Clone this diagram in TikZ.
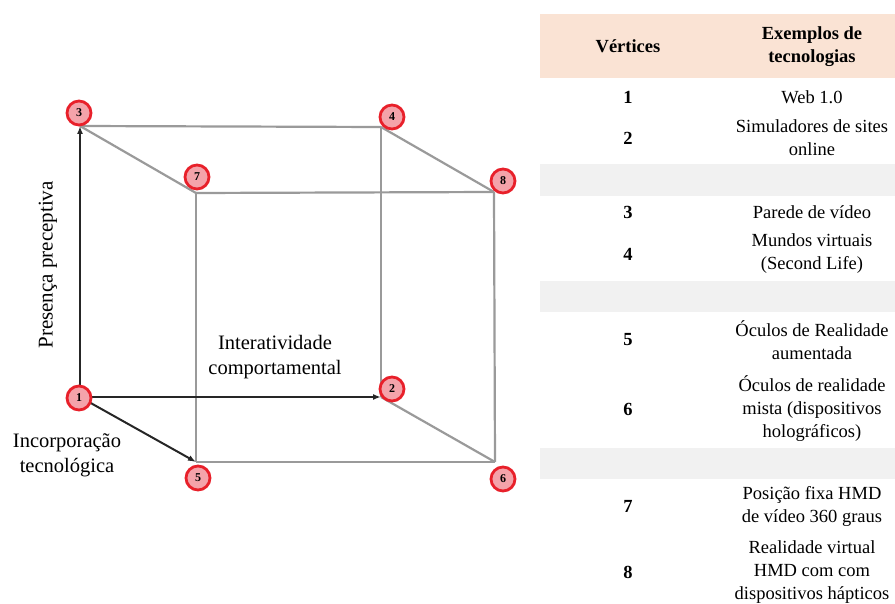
\documentclass[tikz,border=0pt]{standalone}
\usepackage{fontspec}
\setmainfont{Liberation Serif}
\usetikzlibrary{arrows.meta}
\definecolor{hdr}{HTML}{FAE3D4}
\definecolor{band}{HTML}{F1F1F1}
\definecolor{vred}{HTML}{E8202A}
\definecolor{vfill}{HTML}{F4A3AA}
\definecolor{edge}{HTML}{9A9A9A}
\tikzset{
  vtx/.style={circle,draw=vred,line width=2.8pt,fill=vfill,minimum size=24pt,inner sep=0pt,font=\fontsize{12}{12}\selectfont\bfseries},
  grayedge/.style={draw=edge,line width=2.2pt},
  axis/.style={draw=black!85,line width=2pt,-{Latex[length=8pt,width=6pt]}},
  txt/.style={font=\fontsize{18.5}{23}\selectfont,align=center},
  bold/.style={font=\fontsize{18.5}{23}\selectfont\bfseries,align=center},
  lbl/.style={font=\fontsize{20.5}{25}\selectfont,align=center}
}
\begin{document}
\begin{tikzpicture}[x=1pt,y=-1pt]
\useasboundingbox (0,0) rectangle (895,604);
% corners
\coordinate (c1) at (80,397);
\coordinate (c3) at (80,126);
\coordinate (c4) at (381,127);
\coordinate (c2) at (381,397);
\coordinate (c7) at (196,193);
\coordinate (c8) at (494,192);
\coordinate (c6) at (495,462);
\coordinate (c5) at (196,462);
% gray edges
\draw[grayedge] (c3) -- (c4);
\draw[grayedge] (c3) -- (c7);
\draw[grayedge] (c4) -- (c8);
\draw[grayedge] (c7) -- (c8);
\draw[grayedge] (c7) -- (c5);
\draw[grayedge] (c5) -- (c6);
\draw[grayedge] (c8) -- (c6);
\draw[grayedge] (c4) -- (c2);
\draw[grayedge] (c2) -- (c6);
% axes
\draw[axis] (c1) -- (c3);
\draw[axis] (c1) -- (c2);
\draw[axis] (c1) -- (c5);
% vertex markers
\node[vtx] (v1) at (79,398) {1};
\node[vtx] (v2) at (392,389) {2};
\node[vtx] (v3) at (79,113) {3};
\node[vtx] (v4) at (392,117) {4};
\node[vtx] (v5) at (198,478) {5};
\node[vtx] (v6) at (503,479) {6};
\node[vtx] (v7) at (197,177) {7};
\node[vtx] (v8) at (503,181) {8};
% axis labels
\node[lbl,rotate=90,font=\fontsize{21}{25}\selectfont] (lp) at (48,265) {Presença preceptiva};
\node[lbl] (li) at (275,357) {Interatividade\\comportamental};
\node[lbl] (lt) at (67,455) {Incorporação\\tecnológica};
% table
\fill[hdr] (540,14) rectangle (895,78);
\fill[band] (540,164) rectangle (895,196);
\fill[band] (540,281) rectangle (895,312);
\fill[band] (540,448) rectangle (895,479);
\node[bold] (h1) at (628,46) {Vértices};
\node[bold] (h2) at (812,47) {Exemplos de\\tecnologias};
\node[bold] (n1) at (628,97) {1};
\node[txt] (t1) at (812,97) {Web 1.0};
\node[bold] (n2) at (628,138) {2};
\node[txt] (t2) at (812,138) {Simuladores de sites\\online};
\node[bold] (n3) at (628,212) {3};
\node[txt] (t3) at (812,212) {Parede de vídeo};
\node[bold] (n4) at (628,254) {4};
\node[txt] (t4) at (812,254) {Mundos virtuais\\(Second Life)};
\node[bold] (n5) at (628,340) {5};
\node[txt] (t5) at (812,340) {Óculos de Realidade\\aumentada};
\node[bold] (n6) at (628,409) {6};
\node[txt] (t6) at (812,409) {Óculos de realidade\\mista (dispositivos\\holográficos)};
\node[bold] (n7) at (628,506) {7};
\node[txt] (t7) at (812,506) {Posição fixa HMD\\de vídeo 360 graus};
\node[bold] (n8) at (628,572) {8};
\node[txt] (t8) at (812,572) {Realidade virtual\\HMD com com\\dispositivos hápticos};
\end{tikzpicture}
\end{document}
